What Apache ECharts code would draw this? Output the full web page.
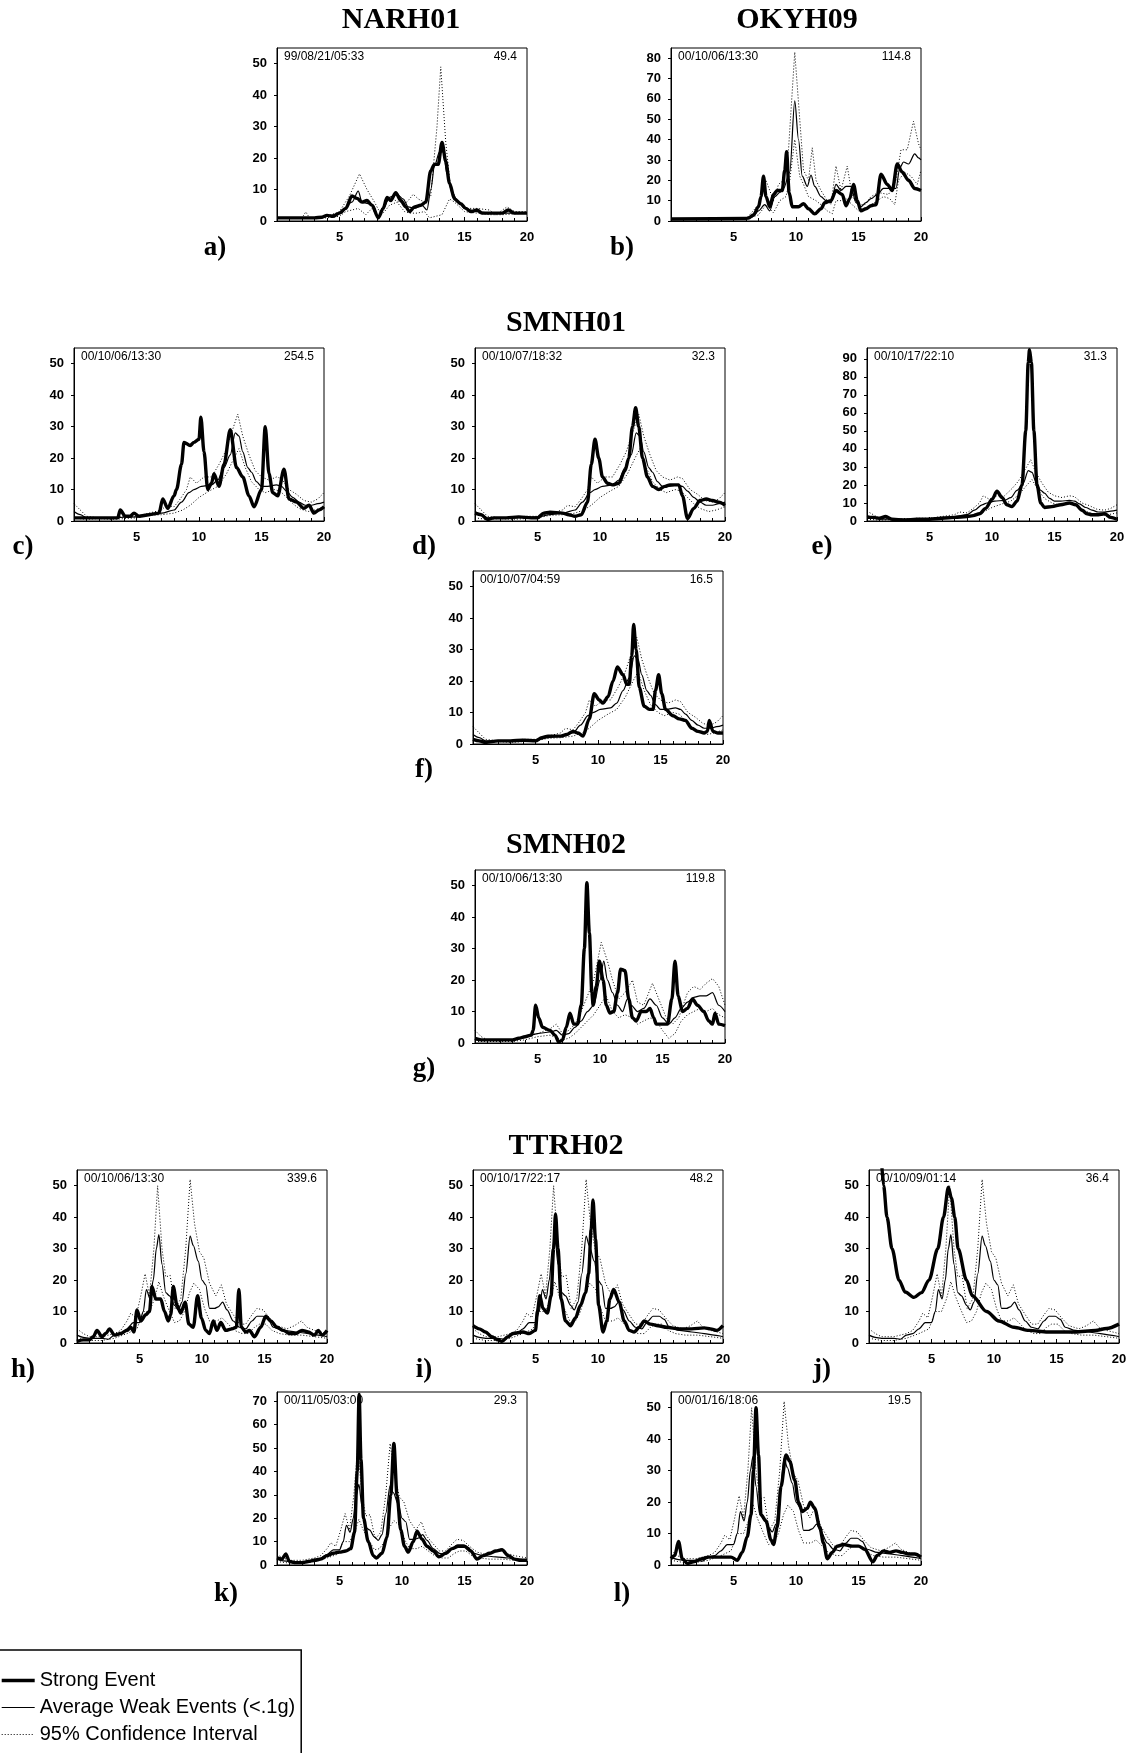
<!DOCTYPE html>
<html lang="en">
<head>
<meta charset="UTF-8">
<title>Spectral ratios</title>
<style>
    html, body { margin: 0; padding: 0; background: #fff; }
    #main { width: 1132px; height: 1753px; }
</style>
<script src="https://cdn.jsdelivr.net/npm/echarts@6/dist/echarts.min.js"></script>
</head>
<body>
<div id="main"></div>
<script>
// ---- data: [frequency, ratio] pairs ----
// NARH01 (a)
var narStrong = [[0,1],[3,1],[3.6,1.2],[4,1.8],[4.5,1.5],[5,2.5],[5.5,4],[6,8],[6.4,7.2],[6.8,6],[7.2,6.5],[7.6,5],[8.1,1],[8.5,4],[8.8,7.5],[9.1,6.5],[9.5,9],[9.9,6.5],[10.3,4.5],[10.6,3],[11,4.5],[11.5,5],[11.9,6],[12.3,16],[12.6,18],[12.9,18],[13.2,25],[13.5,19],[13.8,12],[14.2,7],[14.7,5.5],[15.1,4],[15.5,3],[16,3.5],[16.4,2.5],[17,2.5],[18,2.5],[18.5,3.5],[19,2.5],[20,2.5]];
var narAvg = [[0,1],[3,1],[4,1.5],[5,2.5],[6,6],[6.5,9.5],[6.8,6],[7.3,5.5],[7.7,5],[8.1,1],[8.5,4],[9,7.5],[9.6,8.5],[10.1,7],[10.5,4.5],[11,4],[11.6,5],[12,3.5],[12.3,10],[12.6,17.5],[13,22],[13.3,22],[13.6,15],[14,9],[14.5,6],[15,4],[16,3],[17,2.5],[18,2.5],[19,2.5],[20,2.5]];
var narUp = [[0,1],[2,1],[2.3,2.9],[2.6,1],[4,1.5],[5,3],[5.8,8],[6.6,15],[7.2,10],[7.8,6],[8.2,3],[8.7,6],[9.2,7],[9.8,6],[10.4,6],[10.9,8.5],[11.3,7],[11.8,6],[12.3,8],[12.8,30],[13.1,49],[13.5,25],[13.9,10],[14.5,6],[15,4],[16,4],[17,3.5],[17.5,2],[18.4,4.5],[19,3],[20,3]];
var narLo = [[0,1],[4,1],[5,1.5],[5.5,3],[6.5,4],[7.1,2],[7.6,4],[8.1,1],[8.6,3],[9,5],[9.6,6],[10.2,3],[10.7,2.5],[11.2,2.5],[11.8,3],[12.2,1],[12.7,1.5],[13.2,2],[13.8,7],[14.2,6],[15,3],[16,2.5],[17,2],[18,2],[20,2.5]];

// OKYH09 (b)
var okyStrong = [[0,1],[6,1.2],[6.2,1.5],[6.6,3],[7,7],[7.2,12],[7.4,22],[7.6,12],[7.9,7],[8.2,13],[8.5,15],[8.9,15],[9.1,25],[9.25,34],[9.45,14],[9.7,7],[10.2,7],[10.6,8.5],[11,6],[11.5,3.5],[12,6],[12.3,9],[12.8,10],[13.2,15],[13.7,13],[14,7.5],[14.3,11],[14.6,18],[14.9,10],[15.2,5],[15.6,6],[16,7.5],[16.4,8],[16.8,23],[17.3,18],[17.7,15],[18.1,28],[18.5,24],[19,20],[19.5,16],[20,15]];
var okyAvg = [[0,1],[6,1],[6.5,2],[7,5],[7.5,8],[7.9,5],[8.3,12],[8.7,14],[9,16],[9.5,24],[9.9,59],[10.2,40],[10.5,22],[10.9,17],[11.2,22.5],[11.5,17],[12,12],[12.4,10],[12.8,9],[13.2,18],[13.6,15],[14,17],[14.4,17],[14.8,9],[15.2,7],[15.6,9],[16,11],[16.5,13],[17,16],[17.5,16],[18,16],[18.3,26],[18.6,29],[19,28],[19.5,33],[19.8,31],[20,30]];
var okyUp = [[0,1],[6,1],[7,8],[7.6,20],[8.2,10],[8.6,18],[9,20],[9.4,35],[9.9,83],[10.3,50],[10.6,25],[11,20],[11.3,36],[11.6,20],[12,15],[12.5,10],[12.8,8],[13.2,27],[13.6,15],[14.1,27],[14.5,12],[15,8],[15.5,8],[16,12],[16.6,14],[17.4,13],[18,20],[18.4,35],[18.9,35],[19.4,49],[19.8,38],[20,35]];
var okyLo = [[0,1],[6,1],[7,3],[7.6,8],[8.2,4],[8.7,10],[9.2,12],[9.5,20],[9.9,40],[10.3,22],[10.6,18],[11,12],[11.6,10],[12,8],[12.5,5],[12.9,3.6],[13.2,10],[13.6,10],[14,11],[14.5,8],[15,5],[15.6,6],[16,8],[16.5,10],[17,12],[17.5,11],[17.9,8],[18.2,20],[18.7,24],[19.2,22],[19.7,18],[20,25]];

// SMNH01 weak-event average and 95% band (c-f), strong events per panel
var smnAvg = [[0,3],[0.5,2],[1,1],[2,1],[3,1],[4,1.2],[5,1.3],[6,2],[7,2.5],[8,3.5],[8.6,6],[9.2,9],[9.6,10],[10.2,11],[11,11.5],[11.5,13],[12,17],[12.5,21],[12.9,28],[13.2,27],[13.5,22],[13.9,17],[14.2,15.5],[14.6,12.5],[15,11],[15.5,11],[16.2,11.5],[16.6,11],[17,9.5],[17.5,7.5],[18,6],[18.5,5],[19,5],[19.5,5.5],[20,6]];
var smnUp = [[0,5.5],[0.5,3.5],[1,1.5],[2,1],[3,1],[4,1.5],[5,1.5],[6,2.5],[7,3.5],[7.4,5],[8,4.5],[8.5,7],[9,10],[9.3,14],[9.8,12],[10.4,14],[11,14],[11.6,18],[12.1,22],[12.6,28],[13.1,34],[13.5,27],[14,21],[14.5,16],[15,14],[15.6,13],[16.2,14],[16.6,13.5],[17.2,10],[17.8,8.5],[18.4,6.5],[19,6],[19.5,7],[20,9]];
var smnLo = [[0,1],[1,0.5],[2,0.8],[3,0.5],[5,1],[6,1.8],[7,2],[8,2.5],[8.7,3.5],[9.3,5],[10,7.5],[10.8,9.5],[11.5,11],[12.2,15],[12.8,20],[13.2,23],[13.7,17],[14.2,12.5],[14.8,10],[15.3,9],[16,10],[16.5,9.5],[17,7.5],[17.5,5.5],[18,4],[18.7,3],[19.3,3.5],[20,4.5]];
var cStrong = [[0,1],[3.5,1],[3.7,3.5],[4.1,1.5],[4.5,1.5],[4.8,2.5],[5.2,1.5],[6,2],[6.8,2.5],[7.1,7],[7.5,4],[8,8],[8.2,10],[8.6,18],[8.8,25],[9.3,24],[9.6,25],[10,26],[10.15,33],[10.4,22],[10.7,10],[11,12],[11.2,15],[11.6,11],[12,18],[12.5,29],[13,17],[13.5,14],[14,8],[14.4,4.5],[15,10],[15.3,30],[15.6,15],[15.9,9],[16.3,8],[16.8,16.5],[17.2,7],[17.8,6],[18.4,4],[18.8,5],[19.2,2.5],[19.6,3.5],[20,4.5]];
var dStrong = [[0,2.5],[0.5,2],[1,0.5],[1.5,1],[2.5,1],[3.5,1.3],[4.5,1],[5,1],[5.5,2.5],[6,2.8],[7,2.5],[7.5,2],[8,1.5],[8.5,2],[9,6],[9.3,18],[9.6,26],[9.9,20],[10.2,14],[10.6,12],[11,11.5],[11.5,12],[12,16],[12.3,20],[12.6,30],[12.85,36],[13.1,30],[13.4,20],[13.8,14],[14.2,11],[14.7,10],[15.2,11],[15.6,11.5],[16.3,11.5],[16.6,8],[17,0.8],[17.5,4],[18,6.5],[18.5,7],[19,6.5],[19.5,6],[20,5]];
var eStrong = [[0,2],[0.5,2],[1,1.5],[1.5,2.5],[2,1],[3,0.5],[4,1],[5,1],[6,1.5],[7,2],[8,2.5],[8.5,3],[9,4],[9.5,7],[10,12],[10.4,16.5],[10.8,13],[11.2,9],[11.6,8],[12,11],[12.4,20],[12.7,50],[12.9,88],[13,95],[13.15,88],[13.35,50],[13.6,20],[13.9,10],[14.2,7.5],[14.8,8],[15.5,9],[16.2,10],[16.7,9],[17.2,6],[17.6,4],[18,3.5],[18.5,3.5],[19,4],[19.5,2],[20,1]];
var fStrong = [[0,1.5],[0.5,1],[1,0.5],[2,1],[3,1],[4,1.2],[5,1],[5.5,2],[6,2.5],[7,2.5],[7.5,3],[8,4],[8.4,3.5],[8.8,2.5],[9.3,8],[9.7,16],[10.1,14],[10.4,13],[10.8,15],[11.2,20],[11.55,24.5],[12,22],[12.3,19],[12.5,19],[12.7,28],[12.85,38],[13.05,30],[13.3,18],[13.7,12],[14.1,11],[14.4,11],[14.6,17],[14.85,22],[15.1,16],[15.4,11],[16,9],[16.5,8],[17,7.5],[17.5,5],[18,4],[18.5,3.5],[18.75,4],[18.9,7.5],[19.2,4],[19.6,3.5],[20,3.5]];

// SMNH02 (g)
var sm2Strong = [[0,1.5],[0.5,1],[3,1],[3.5,1.5],[4,2],[4.5,2.5],[4.65,4],[4.85,12],[5.1,8],[5.4,5],[6,4],[6.4,2.5],[6.7,0.3],[7,1],[7.3,5],[7.6,9.5],[7.9,6],[8.2,6],[8.5,12],[8.75,30],[8.95,51],[9.15,35],[9.35,16],[9.45,12],[9.7,18],[9.95,26],[10.25,20],[10.5,12],[10.8,9.5],[11.1,10],[11.4,16],[11.65,23.5],[12,23],[12.3,14],[12.6,8],[12.9,7],[13.3,10],[13.7,10],[14,11],[14.3,8],[14.5,6],[15,6],[15.4,6],[15.75,14],[16,26],[16.25,15],[16.6,10],[17,11],[17.4,14],[17.8,12],[18.3,10],[18.7,7],[19,6],[19.2,9.5],[19.5,6],[20,5.5]];
var sm2Avg = [[0,1],[3,1],[4,2],[5,3],[6,3.5],[6.5,4],[7,2.5],[7.5,3],[8,5],[8.5,7],[9,10],[9.5,12],[10,20],[10.3,26],[10.6,20],[11,16],[11.4,12],[11.8,10],[12.2,14],[12.5,12],[13,10],[13.5,11],[14,14],[14.5,12],[15,8],[15.5,6],[16,8],[16.5,11],[17,13],[17.5,14.5],[18,15],[18.5,15],[19,16],[19.5,12],[20,10]];
var sm2Up = [[0,4],[0.5,2],[1,1],[3,1],[4,2],[5,3],[6,4.5],[6.5,6],[7,3],[7.5,4],[8,6],[8.5,10],[9,15],[9.5,20],[10.1,32],[10.6,26],[11,20],[11.5,14],[12,16],[12.6,20],[13,13],[13.5,12],[14.2,19],[14.7,14],[15.3,8],[15.8,6],[16.3,8],[17,16],[17.5,18],[18,17],[18.5,19],[19,20.5],[19.5,18],[20,12]];
var sm2Lo = [[0,0.5],[3,0.5],[4,1],[5,2],[6,2.5],[7,1],[7.5,1.5],[8,3],[8.5,5],[9,7],[9.5,9],[10,12],[10.5,15],[11,10],[11.5,8],[12,9],[12.6,8],[13,6],[13.5,7],[14,8],[14.5,7],[15,4],[15.5,1.5],[16,3],[16.5,7],[17,9],[17.5,10],[18,11],[18.5,10],[19,11],[19.5,9],[20,8]];

// TTRH02 weak-event average and 95% band (h-l), strong events per panel
var ttrAvg = [[0,2.5],[0.5,1.8],[1,1.5],[2,1.5],[2.5,1.2],[3,2.5],[3.5,3],[4,4.5],[4.5,6.5],[5,6.5],[5.3,10],[5.55,17],[5.85,14],[6.1,20],[6.35,30],[6.55,34.5],[6.8,25],[7.1,16],[7.4,15],[7.8,12],[8.1,10.5],[8.4,13],[8.7,22],[9.05,34],[9.3,31],[9.7,26],[10,20],[10.3,18.5],[10.6,11],[11,11],[11.3,11.5],[11.65,13],[12,10.5],[12.5,7],[13,5],[13.5,4.5],[14,7],[14.4,8.5],[14.9,8.5],[15.3,7.5],[15.7,5],[16.5,4],[17.5,3.5],[18.5,3],[19.3,2.5],[20,2]];
var ttrUp = [[0,4.5],[0.5,3],[1,2],[2,2],[3,3],[3.5,4],[4,7],[4.3,9.5],[4.7,8],[5.1,15],[5.45,22],[5.8,15],[6.15,30],[6.45,50],[6.8,30],[7.1,21],[7.45,21.5],[7.85,11],[8.3,14],[8.7,30],[9.05,52],[9.4,38],[9.8,29],[10.15,27],[10.6,19],[11.1,15],[11.55,18.5],[11.95,12.5],[12.5,9],[13,6],[13.5,6],[14,9],[14.4,11],[14.9,10.5],[15.4,8],[16,5.5],[16.8,4.5],[17.4,5.5],[17.95,7],[18.4,5],[19,4],[20,3]];
var ttrLo = [[0,1.5],[1,0.8],[2,0.8],[3,1.5],[4,3],[4.8,4.5],[5.3,10],[5.8,10],[6.2,14],[6.55,19.5],[6.9,15],[7.3,11],[7.8,6.5],[8.2,7],[8.6,10],[9,16],[9.35,19],[9.8,17],[10.2,11],[10.6,7],[11.2,7],[11.6,8],[12.1,6],[12.6,4],[13.2,3],[13.7,3],[14.2,5],[14.6,6],[15.1,6],[15.6,4],[16.2,3],[17,2.5],[18,2.5],[19,2],[20,1.5]];
var hStrong = [[0,0.5],[0.5,1],[1,1],[1.3,2],[1.6,4],[2,2],[2.3,3],[2.6,4.5],[3,2.5],[3.5,3],[4,4],[4.3,5],[4.55,3.5],[4.8,10.5],[5.1,7],[5.5,9],[5.8,10],[6,18],[6.3,14],[6.7,14],[7,10],[7.3,7],[7.5,9],[7.7,18],[8,12],[8.3,9.5],[8.65,13],[8.95,6],[9.3,5],[9.65,15],[9.95,8],[10.3,4],[10.6,3],[10.9,7],[11.2,4],[11.5,6.5],[11.9,4],[12.4,4.5],[12.75,5],[12.95,17],[13.15,5],[13.5,3.5],[13.8,4],[14.2,2],[14.7,5],[15.1,8.5],[15.5,7],[16,5],[16.5,4],[17,3],[17.5,3],[18,4],[18.5,3.5],[19,2.5],[19.3,4],[19.6,2.5],[20,4]];
var iStrong = [[0,5.5],[0.5,4.5],[1,3.5],[1.5,2],[2,1],[2.3,0.5],[2.8,2],[3.2,3],[4,3.5],[4.5,3],[5,4],[5.15,10],[5.35,15],[5.6,11],[5.95,9.5],[6.25,15],[6.45,30],[6.6,41],[6.8,30],[7.05,14],[7.4,7],[7.8,5.5],[8.2,8],[8.6,12],[9,16],[9.25,22],[9.45,36],[9.6,45.5],[9.8,33],[10.05,12],[10.4,3.5],[10.7,7],[10.95,14],[11.25,17],[11.7,13],[12.1,7],[12.5,4],[12.9,3.5],[13.3,5],[13.7,7],[14.2,6],[14.8,5.5],[15.5,5],[16.5,4.5],[17.5,4.5],[18.5,4.8],[19,4.5],[19.5,4],[20,5.5]];
var jStrong = [[1,58],[1.17,50],[1.44,40],[1.84,30],[2.4,20],[2.9,16.2],[3.6,14.5],[4.2,16],[4.8,20],[5.5,30],[5.96,40],[6.35,49.5],[6.6,46],[6.86,40],[7.13,30],[7.8,20],[8.27,15],[9.4,10],[10.4,7],[11.6,5],[12.8,4],[14.3,3.5],[16.5,3.5],[18.1,4],[19,4.6],[20,6]];
var kStrong = [[0,3],[0.4,2.5],[0.7,4.7],[1,1.5],[1.5,1],[2,1],[2.5,1.5],[3,2],[3.5,2.5],[4,4],[4.5,5],[5,5.5],[5.5,6],[5.9,7],[6.2,14],[6.42,40],[6.57,73],[6.72,45],[6.92,20],[7.3,10],[7.7,4],[7.95,3],[8.4,5],[8.8,12],[9.1,30],[9.35,52],[9.6,30],[9.9,15],[10.2,8],[10.5,5.5],[10.9,10],[11.2,14.5],[11.6,11],[12,8],[12.5,6],[12.95,3.5],[13.5,5],[14,7],[14.5,8],[15,8],[15.5,6],[16,2.5],[16.5,4],[17,5],[17.5,6],[18,6.5],[18.5,4],[19,2.5],[19.5,2],[20,2]];
var lStrong = [[0,2],[0.3,3],[0.6,7.5],[0.9,2],[1.3,0.5],[1.8,1],[2.5,2],[3,2.5],[4,2.5],[4.8,2.5],[5.3,1.5],[5.7,4],[6.1,9],[6.4,16],[6.6,30],[6.8,50],[7,35],[7.2,16],[7.6,14],[8,8],[8.2,6.5],[8.5,12],[8.8,25],[9.2,35],[9.5,33],[9.9,27],[10.2,20],[10.5,17],[10.9,18],[11.15,20],[11.5,18],[11.9,12],[12.2,7],[12.5,2],[12.9,4],[13.3,6],[13.8,6.5],[14.5,6],[15,6],[15.5,5],[16.15,1],[16.5,3],[17,4.5],[17.5,4],[18,4.5],[18.5,4],[19,3.5],[19.5,3.5],[20,2.5]];

var panelLetters = ['a)', 'b)', 'c)', 'd)', 'e)', 'f)', 'g)', 'h)', 'i)', 'j)', 'k)', 'l)'];
var eventTimes = ['99/08/21/05:33', '00/10/06/13:30', '00/10/06/13:30', '00/10/07/18:32', '00/10/17/22:10', '00/10/07/04:59',
    '00/10/06/13:30', '00/10/06/13:30', '00/10/17/22:17', '00/10/09/01:14', '00/11/05/03:00', '00/01/16/18:06'];
var peakValues = ['49.4', '114.8', '254.5', '32.3', '31.3', '16.5', '119.8', '339.6', '48.2', '36.4', '29.3', '19.5'];
var stationNames = ['NARH01', 'OKYH09', 'SMNH01', 'SMNH02', 'TTRH02'];
var legendNames = ['Strong Event', 'Average Weak Events (<.1g)', '95% Confidence Interval'];
var yMax = [55, 85, 55, 55, 96, 55, 55, 55, 55, 55, 74, 55];
var yInterval = 10;
var xMax = 20, xInterval = 5;

var strongData = [narStrong, okyStrong, cStrong, dStrong, eStrong, fStrong, sm2Strong, hStrong, iStrong, jStrong, kStrong, lStrong];
var avgData = [narAvg, okyAvg, smnAvg, smnAvg, smnAvg, smnAvg, sm2Avg, ttrAvg, ttrAvg, ttrAvg, ttrAvg, ttrAvg];
var upData = [narUp, okyUp, smnUp, smnUp, smnUp, smnUp, sm2Up, ttrUp, ttrUp, ttrUp, ttrUp, ttrUp];
var loData = [narLo, okyLo, smnLo, smnLo, smnLo, smnLo, sm2Lo, ttrLo, ttrLo, ttrLo, ttrLo, ttrLo];

// ---- layout (pixels) ----
var boxes = [
    [277, 48], [671, 48],
    [74, 348], [475, 348], [867, 348],
    [473, 571],
    [475, 870],
    [77, 1170], [473, 1170], [869, 1170],
    [277, 1392], [671, 1392]
];
var boxW = 250, boxH = 173;
var letterPos = [[215, 248], [622, 248], [23, 547], [424, 547], [822, 547], [424, 770], [424, 1069],
    [23, 1370], [424, 1370], [822, 1370], [226, 1594], [622, 1594]];
var titlePos = [[401, 20], [797, 20], [566, 323], [566, 845], [566, 1146]];

var SANS = '"Liberation Sans", Arial, sans-serif';
var SERIF = '"Liberation Serif", "Times New Roman", serif';

var STRONG_W = 3.4, AVG_W = 1.2, CI_W = 1, CI_DASH = [1, 2];

var grids = [], xAxes = [], yAxes = [], series = [], graphics = [];

function lineSeries(name, data, idx, width, dash, smooth, z) {
    return {
        type: 'line', name: name, xAxisIndex: idx, yAxisIndex: idx,
        data: data, symbol: 'none', smooth: smooth, smoothMonotone: 'x',
        lineStyle: {color: '#000', width: width, type: dash},
        itemStyle: {color: '#000'},
        z: z, silent: true
    };
}

for (var i = 0; i < boxes.length; i++) {
    var b = boxes[i];
    grids.push({
        left: b[0], top: b[1], width: boxW, height: boxH,
        show: true, borderColor: '#000', borderWidth: 1,
        containLabel: false, outerBoundsMode: 'none'
    });
    xAxes.push({
        type: 'value', gridIndex: i, min: 0, max: xMax, interval: xInterval,
        axisLine: {show: true, onZero: false, lineStyle: {color: '#000', width: 1}},
        axisTick: {show: true, inside: true, length: 4, lineStyle: {color: '#000'}},
        minorTick: {show: true, splitNumber: 5, length: 3, lineStyle: {color: '#000'}},
        splitLine: {show: false},
        axisLabel: {
            showMinLabel: false, margin: 10, color: '#000',
            fontFamily: SANS, fontSize: 13, fontWeight: 'bold'
        }
    });
    yAxes.push({
        type: 'value', gridIndex: i, min: 0, max: yMax[i], interval: yInterval,
        axisLine: {show: true, onZero: false, lineStyle: {color: '#000', width: 1}},
        axisTick: {show: true, length: 3, lineStyle: {color: '#000'}},
        splitLine: {show: false},
        axisLabel: {
            showMaxLabel: false, margin: 10, color: '#000',
            fontFamily: SANS, fontSize: 13, fontWeight: 'bold',
            formatter: function (v) { return v % 10 === 0 ? v : ''; }
        }
    });
    series.push(lineSeries(legendNames[2], upData[i], i, CI_W, CI_DASH, false, 2));
    series.push(lineSeries(legendNames[2], loData[i], i, CI_W, CI_DASH, false, 2));
    series.push(lineSeries(legendNames[1], avgData[i], i, AVG_W, 'solid', 0.3, 3));
    series.push(lineSeries(legendNames[0], strongData[i], i, STRONG_W, 'solid', 0.3, 4));

    // date stamp and peak value inside each box
    graphics.push({
        type: 'text', x: b[0] + 7, y: b[1] + 9, z: 0,
        style: {text: eventTimes[i], font: '12px ' + SANS, fill: '#000', align: 'left', verticalAlign: 'middle'}
    });
    graphics.push({
        type: 'text', x: b[0] + boxW - 10, y: b[1] + 9, z: 0,
        style: {text: peakValues[i], font: '12px ' + SANS, fill: '#000', align: 'right', verticalAlign: 'middle'}
    });
    graphics.push({
        type: 'text', x: letterPos[i][0], y: letterPos[i][1],
        style: {text: panelLetters[i], font: 'bold 27px ' + SERIF, fill: '#000', align: 'center', verticalAlign: 'middle'}
    });
}

for (var t = 0; t < stationNames.length; t++) {
    graphics.push({
        type: 'text', x: titlePos[t][0], y: titlePos[t][1],
        style: {text: stationNames[t], font: 'bold 30px ' + SERIF, fill: '#000', align: 'center', verticalAlign: 'middle'}
    });
}

var chart = echarts.init(document.getElementById('main'), null, {renderer: 'canvas'});
chart.setOption({
    animation: false,
    backgroundColor: '#fff',
    textStyle: {fontFamily: SANS},
    grid: grids,
    xAxis: xAxes,
    yAxis: yAxes,
    legend: {
        data: [
            {name: legendNames[0], lineStyle: {color: '#000', width: STRONG_W, type: 'solid'}},
            {name: legendNames[1], lineStyle: {color: '#000', width: AVG_W, type: 'solid'}},
            {name: legendNames[2], lineStyle: {color: '#000', width: CI_W, type: CI_DASH}}
        ],
        orient: 'vertical',
        left: -22, top: 1650, height: 200,
        padding: [17, 6, 60, 22],
        itemWidth: 33, itemHeight: 14, itemGap: 0,
        borderColor: '#000', borderWidth: 1.5,
        itemStyle: {opacity: 0},
        textStyle: {color: '#000', fontSize: 20, lineHeight: 27, fontFamily: SANS},
        selectedMode: false
    },
    graphic: graphics,
    series: series
});
</script>
</body>
</html>
